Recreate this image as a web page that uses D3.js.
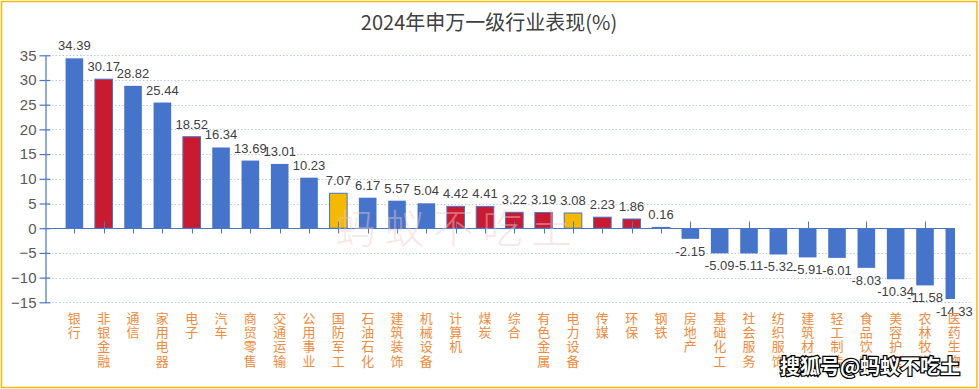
<!DOCTYPE html>
<html>
<head>
<meta charset="utf-8">
<script src="https://cdn.jsdelivr.net/npm/d3@7"></script>
<style>
  body { margin: 0; background: #fff; }
  svg { display: block; }
  text { font-family: "Liberation Sans", Arial, sans-serif; }
  .cjk { font-family: "Noto Sans CJK SC", sans-serif; }
</style>
</head>
<body>
<div class="chart"></div>
<script>
// sectors, sorted by 2024 return
const sectors = ["银行", "非银金融", "通信", "家用电器", "电子", "汽车", "商贸零售", "交通运输", "公用事业", "国防军工",
  "石油石化", "建筑装饰", "机械设备", "计算机", "煤炭", "综合", "有色金属", "电力设备", "传媒", "环保",
  "钢铁", "房地产", "基础化工", "社会服务", "纺织服饰", "建筑材料", "轻工制造", "食品饮料", "美容护理", "农林牧渔", "医药生物"];
const returns = [34.39, 30.17, 28.82, 25.44, 18.52, 16.34, 13.69, 13.01, 10.23, 7.07,
  6.17, 5.57, 5.04, 4.42, 4.41, 3.22, 3.19, 3.08, 2.23, 1.86,
  0.16, -2.15, -5.09, -5.11, -5.32, -5.91, -6.01, -8.03, -10.34, -11.58, -14.33];
const redGroup = ["非银金融", "电子", "计算机", "煤炭", "综合", "有色金属", "传媒", "环保", "钢铁"];
const yellowGroup = ["国防军工", "电力设备"];
const yTicks = [-15, -10, -5, 0, 5, 10, 15, 20, 25, 30, 35];

const width = 979, height = 389;
const axisLeft = 45, axisRight = 955, gridRight = 972;

let svg = d3.select("div.chart")
  .append("svg")
  .attr("width", width)
  .attr("height", height);

svg.append("rect")
  .attr("x", 1.5).attr("y", 1.5)
  .attr("width", 975.5).attr("height", 386)
  .attr("fill", "#fff")
  .attr("stroke", "#f2b90f")
  .attr("stroke-width", 1.5);

svg.append("text")
  .attr("class", "cjk")
  .attr("x", 489).attr("y", 30)
  .attr("text-anchor", "middle")
  .attr("font-size", 20)
  .attr("fill", "#404040")
  .text("2024年申万一级行业表现(%)");

let y = d3.scaleLinear().domain([-15, 35]).range([302.3, 55.3]);
let x = d3.scaleBand().domain(sectors).range([59.7, 969]).paddingInner(0.4).paddingOuter(0.2);
const cx = d => x(d) + x.bandwidth() / 2;

const barColor = s => redGroup.includes(s) ? "#c81b32" : yellowGroup.includes(s) ? "#f4b900" : "#4774cb";

// grid
svg.append("g")
  .selectAll("line")
  .data(yTicks.filter(t => t !== 0))
  .enter()
  .append("line")
  .attr("x1", axisLeft).attr("x2", gridRight)
  .attr("y1", d => Math.round(y(d)) + 0.5).attr("y2", d => Math.round(y(d)) + 0.5)
  .attr("stroke", "#b9c9e6")
  .attr("stroke-width", 1)
  .attr("stroke-dasharray", "1.5,2");

svg.append("clipPath").attr("id", "plotclip")
  .append("rect").attr("x", axisLeft).attr("y", 0).attr("width", axisRight - axisLeft).attr("height", height);

let rows = sectors.map((s, i) => ({ name: s, value: returns[i], i: i }));

svg.append("g")
  .attr("clip-path", "url(#plotclip)")
  .selectAll("rect")
  .data(rows)
  .enter()
  .append("rect")
  .attr("x", d => x(d.name))
  .attr("width", x.bandwidth())
  .attr("y", d => Math.min(y(d.value), y(0)))
  .attr("height", d => Math.max(Math.abs(y(d.value) - y(0)), 0.8))
  .attr("fill", d => barColor(d.name))
  .attr("stroke", d => barColor(d.name) === "#4774cb" ? "none" : "#4774cb")
  .attr("stroke-width", 1);

// x axis line + ticks
const y0 = Math.round(y(0)) + 0.5;
svg.append("line")
  .attr("x1", axisLeft).attr("x2", axisRight)
  .attr("y1", y0).attr("y2", y0)
  .attr("stroke", "#4a76c6").attr("stroke-width", 1.2);

svg.append("g")
  .selectAll("line")
  .data(rows)
  .enter()
  .append("line")
  .attr("x1", d => Math.round(cx(d.name)) + 0.5).attr("x2", d => Math.round(cx(d.name)) + 0.5)
  .attr("y1", d => d.i % 2 === 1 ? y0 - 7 : y0)
  .attr("y2", y0 + 5)
  .attr("stroke", "#4a76c6").attr("stroke-width", 1);

// y axis
let yAxis = d3.axisLeft(y).tickValues(yTicks).tickSize(0).tickPadding(9);
let yg = svg.append("g")
  .attr("transform", `translate(${axisLeft + 0.5},0)`)
  .call(yAxis);
yg.select(".domain").attr("stroke", "#4a76c6").attr("stroke-width", 1.2);
yg.selectAll(".tick text")
  .attr("font-size", 15)
  .attr("fill", "#595959")
  .attr("font-family", "Liberation Sans, Arial, sans-serif");
yg.selectAll(".tick")
  .append("line")
  .attr("x1", -6).attr("x2", 5)
  .attr("stroke", "#4a76c6").attr("stroke-width", 1.2);

// value labels
svg.append("g")
  .selectAll("text")
  .data(rows)
  .enter()
  .append("text")
  .attr("x", d => cx(d.name))
  .attr("y", d => d.value >= 0 ? y(d.value) - 8 : y(d.value) + 17)
  .attr("text-anchor", "middle")
  .attr("font-size", 13)
  .attr("fill", "#404040")
  .text(d => d.value.toFixed(2));

// vertical category labels
let cats = svg.append("g")
  .selectAll("text")
  .data(rows)
  .enter()
  .append("text")
  .attr("class", "cjk")
  .attr("font-size", 13)
  .attr("fill", "#f08a3c")
  .attr("text-anchor", "middle");
cats.selectAll("tspan")
  .data(d => Array.from(d.name).map(c => ({ c: c, x: cx(d.name) })))
  .enter()
  .append("tspan")
  .attr("x", d => d.x)
  .attr("y", (d, k) => 323 + k * 14.2)
  .text(d => d.c);

// watermarks
svg.append("text")
  .attr("class", "cjk")
  .attr("x", 458).attr("y", 243)
  .attr("text-anchor", "middle")
  .attr("font-size", 40)
  .attr("font-weight", 300)
  .attr("letter-spacing", 9)
  .attr("fill", "#f3c8c8")
  .attr("fill-opacity", 0.45)
  .text("蚂蚁不吃土");

svg.append("text")
  .attr("class", "cjk")
  .attr("x", 870).attr("y", 374)
  .attr("text-anchor", "middle")
  .attr("font-size", 20)
  .attr("font-weight", 700)
  .attr("fill", "#fff")
  .attr("stroke", "#000")
  .attr("stroke-width", 2.5)
  .attr("paint-order", "stroke")
  .text("搜狐号@蚂蚁不吃土");
</script>
</body>
</html>
